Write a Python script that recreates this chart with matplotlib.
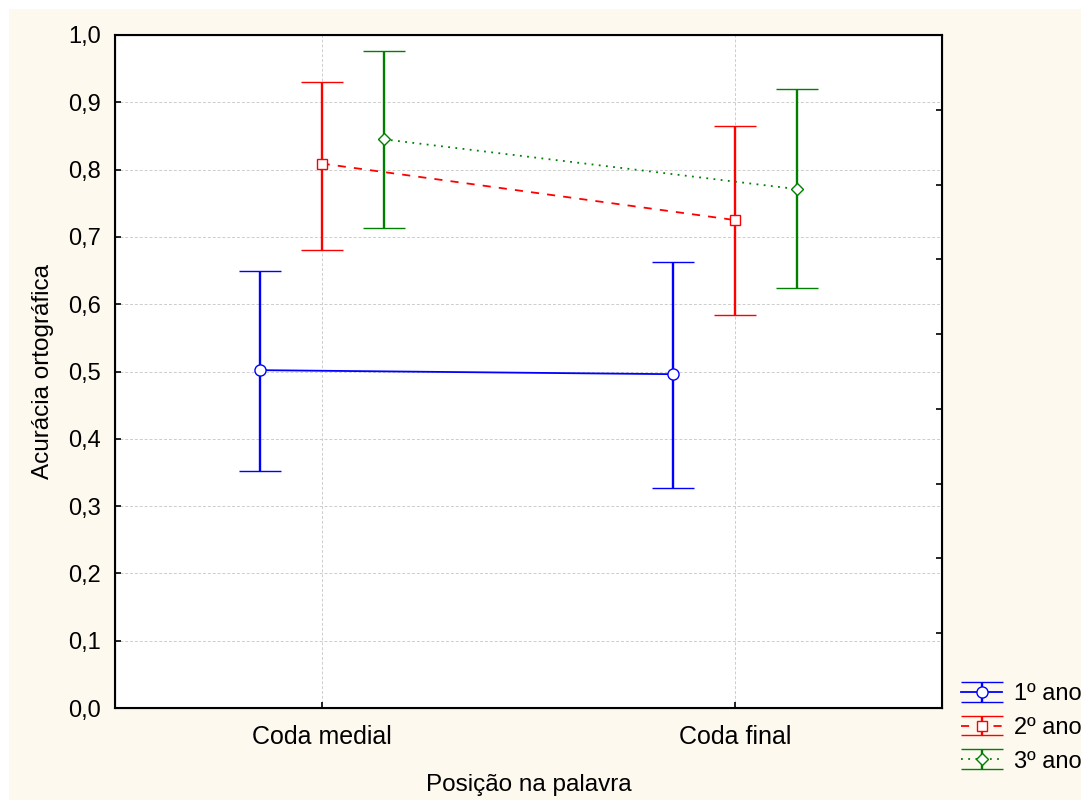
import matplotlib.pyplot as plt
from matplotlib.patches import Rectangle
from matplotlib.container import ErrorbarContainer
from matplotlib.legend_handler import HandlerErrorbar
import numpy as np

plt.rcParams['font.family'] = ['Liberation Sans', 'DejaVu Sans']

# médias e intervalos de confiança por ano escolar
categorias = ['Coda medial', 'Coda final']
grupos = ['1º ano', '2º ano', '3º ano']
media_1 = [0.502, 0.496]
media_2 = [0.809, 0.725]
media_3 = [0.845, 0.771]
inf_1 = [0.352, 0.327]
inf_2 = [0.681, 0.584]
inf_3 = [0.713, 0.624]
sup_1 = [0.650, 0.662]
sup_2 = [0.930, 0.865]
sup_3 = [0.976, 0.920]

medias = [media_1, media_2, media_3]
inferiores = [inf_1, inf_2, inf_3]
superiores = [sup_1, sup_2, sup_3]
cores = ['#0000FF', '#FF0000', '#008000']
marcadores = ['o', 's', 'D']
estilos = ['-', (0, (4.5, 4.5)), (0, (1, 3))]
msizes = [8, 7.5, 6.5]
deslocs = [-0.15, 0.0, 0.15]

fig = plt.figure(figsize=(10.81, 8.0), dpi=100, facecolor='white')
fig.patches.append(Rectangle((9 / 1081, 0), 1, 1 - 9 / 800, transform=fig.transFigure,
                             facecolor='#FEF9EE', edgecolor='none', zorder=-10))
ax = fig.add_axes([115 / 1081, 92 / 800, (941.7 - 115) / 1081, (708 - 35) / 800])
ax.set_facecolor('white')

x = np.arange(len(categorias))
for i in range(3):
    m = np.array(medias[i])
    lo = m - np.array(inferiores[i])
    hi = np.array(superiores[i]) - m
    ax.errorbar(x + deslocs[i], m, yerr=[lo, hi], color=cores[i],
                linestyle=estilos[i], linewidth=1.3, elinewidth=1.7,
                capsize=14.8, capthick=1.7, marker=marcadores[i],
                markersize=msizes[i], markerfacecolor='white',
                markeredgecolor=cores[i], markeredgewidth=1.0,
                label=grupos[i], zorder=3)

ax.set_xlim(-0.5, 1.5)
ax.set_ylim(0, 1.0)
ax.set_xticks(x)
ax.set_xticklabels(categorias, fontsize=18)
ax.set_yticks(np.arange(0, 1.01, 0.1))
ax.set_yticklabels([f'{v:.1f}'.replace('.', ',') for v in np.arange(0, 1.01, 0.1)], fontsize=17)
ax.tick_params(axis='both', direction='in', length=4, width=1.2, pad=10)
ax.tick_params(axis='x', pad=12)
ax.grid(True, color='#CDCDCD', linestyle=(0, (3, 2)), linewidth=0.7, zorder=0)
for s in ax.spines.values():
    s.set_linewidth(1.5)

# marcas do eixo direito
ax2 = ax.twinx()
ax2.set_ylim(0, 1.0)
ax2.set_yticks(np.arange(1, 9) / 9)
ax2.set_yticklabels([])
ax2.tick_params(axis='y', direction='in', length=4, width=1.2)

ax.set_xlabel('Posição na palavra', fontsize=17.5, labelpad=18)
ax.set_ylabel('Acurácia ortográfica', fontsize=17.5, labelpad=10)

handles, labels = ax.get_legend_handles_labels()
fig.legend(handles, labels, loc='upper left', bbox_to_anchor=(961 / 1081, (800 - 683) / 800),
           bbox_transform=fig.transFigure, frameon=False, fontsize=17,
           borderpad=0, borderaxespad=0, handlelength=1.75, handletextpad=0.5,
           labelspacing=0.5,
           handler_map={ErrorbarContainer: HandlerErrorbar(yerr_size=0.42)})

fig.savefig('out.png', dpi=100, facecolor=fig.get_facecolor())
